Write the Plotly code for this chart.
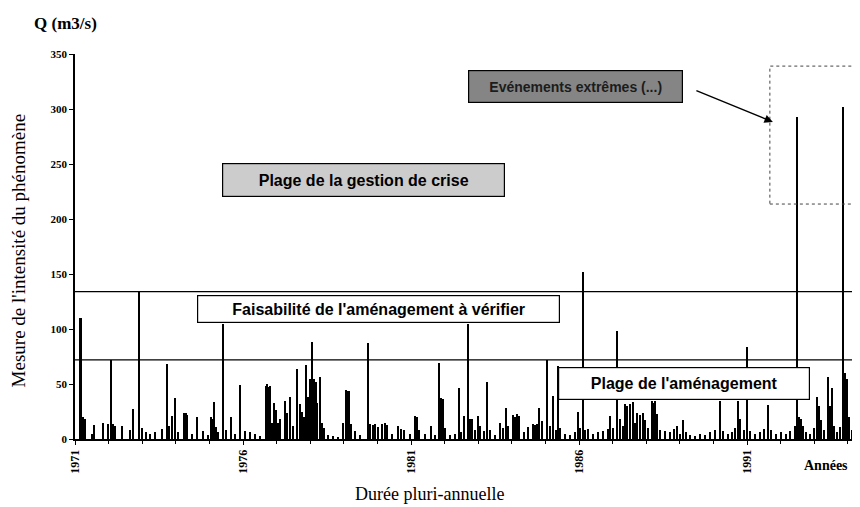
import plotly.graph_objects as go

# ---- data (decimal year, discharge m3/s) ----
annees = [
    1971.17, 1971.24, 1971.30, 1971.51, 1971.57, 1971.83, 1971.98, 1972.07, 1972.13, 1972.19,
    1972.40, 1972.64, 1972.73, 1972.90, 1972.99, 1973.11, 1973.23, 1973.38, 1973.59, 1973.74,
    1973.80, 1973.89, 1973.98, 1974.07, 1974.24, 1974.30, 1974.33, 1974.48, 1974.63, 1974.81,
    1974.96, 1975.05, 1975.11, 1975.14, 1975.20, 1975.26, 1975.40, 1975.49, 1975.64, 1975.76,
    1975.91, 1976.06, 1976.21, 1976.36, 1976.51, 1976.68, 1976.71, 1976.74, 1976.80, 1976.86,
    1976.92, 1976.98, 1977.04, 1977.10, 1977.25, 1977.31, 1977.40, 1977.49, 1977.61, 1977.70,
    1977.76, 1977.82, 1977.88, 1977.93, 1977.99, 1978.05, 1978.11, 1978.17, 1978.20, 1978.29,
    1978.35, 1978.41, 1978.53, 1978.68, 1978.83, 1978.98, 1979.07, 1979.10, 1979.15, 1979.21,
    1979.33, 1979.48, 1979.72, 1979.78, 1979.87, 1979.93, 1980.02, 1980.14, 1980.23, 1980.29,
    1980.43, 1980.61, 1980.70, 1980.79, 1980.97, 1981.12, 1981.18, 1981.24, 1981.42, 1981.60,
    1981.71, 1981.83, 1981.89, 1981.95, 1982.01, 1982.16, 1982.31, 1982.43, 1982.49, 1982.58,
    1982.70, 1982.76, 1982.82, 1982.90, 1982.99, 1983.05, 1983.17, 1983.26, 1983.35, 1983.50,
    1983.65, 1983.74, 1983.83, 1983.89, 1984.04, 1984.10, 1984.15, 1984.21, 1984.36, 1984.48,
    1984.63, 1984.69, 1984.75, 1984.81, 1984.90, 1985.05, 1985.14, 1985.23, 1985.32, 1985.38,
    1985.43, 1985.58, 1985.73, 1985.88, 1985.97, 1986.03, 1986.12, 1986.18, 1986.27, 1986.42,
    1986.57, 1986.71, 1986.86, 1986.92, 1987.01, 1987.13, 1987.22, 1987.31, 1987.37, 1987.43,
    1987.52, 1987.61, 1987.67, 1987.73, 1987.82, 1987.90, 1987.96, 1988.05, 1988.17, 1988.23,
    1988.26, 1988.32, 1988.41, 1988.56, 1988.71, 1988.83, 1988.92, 1989.01, 1989.10, 1989.18,
    1989.30, 1989.45, 1989.60, 1989.75, 1989.90, 1990.05, 1990.20, 1990.29, 1990.43, 1990.55,
    1990.64, 1990.73, 1990.79, 1990.91, 1991.00, 1991.09, 1991.24, 1991.39, 1991.51, 1991.63,
    1991.71, 1991.86, 1992.01, 1992.16, 1992.28, 1992.43, 1992.50, 1992.55, 1992.61, 1992.67,
    1992.76, 1992.88, 1993.00, 1993.08, 1993.14, 1993.20, 1993.29, 1993.41, 1993.47, 1993.53,
    1993.59, 1993.68, 1993.77, 1993.86, 1993.92, 1993.98, 1994.04, 1994.12,
]
debits = [
    110, 20, 18, 5, 13, 15, 14, 72, 14, 12,
    12, 8, 27, 134, 10, 6, 5, 6, 9, 68,
    12, 21, 37, 6, 24, 24, 22, 5, 20, 7,
    4, 20, 18, 34, 11, 6, 105, 8, 20, 5,
    49, 7, 6, 5, 3, 48, 50, 47, 48, 15,
    33, 26, 15, 18, 35, 24, 38, 12, 64, 32,
    25, 20, 67, 38, 55, 88, 55, 52, 33, 56,
    15, 10, 4, 3, 2, 15, 45, 44, 44, 14,
    7, 4, 87, 14, 13, 14, 11, 14, 15, 13,
    5, 12, 9, 8, 5, 21, 20, 8, 5, 12,
    4, 69, 37, 36, 10, 4, 5, 46, 6, 21,
    105, 18, 18, 8, 21, 12, 7, 52, 8, 4,
    15, 10, 28, 12, 22, 20, 23, 21, 6, 11,
    14, 13, 14, 28, 16, 72, 12, 39, 8, 66,
    10, 5, 4, 6, 25, 10, 152, 8, 9, 5,
    6, 7, 9, 21, 10, 98, 18, 12, 32, 30,
    32, 34, 15, 24, 22, 24, 17, 10, 35, 33,
    35, 23, 8, 7, 6, 9, 12, 5, 17, 6,
    4, 3, 5, 4, 6, 8, 35, 7, 5, 6,
    10, 35, 18, 8, 84, 7, 5, 6, 9, 31,
    8, 5, 6, 5, 7, 12, 293, 20, 18, 12,
    6, 5, 10, 38, 30, 17, 8, 56, 30, 46,
    12, 6, 11, 302, 60, 55, 20, 8,
]

seuil_crise = 134
seuil_amenagement = 72

tick_annees = [1971, 1976, 1981, 1986, 1991]
tick_labels = ["1971", "1976", "1981", "1986", "1991"]

serif = "Liberation Serif"
sans = "Liberation Sans"

fig = go.Figure()
fig.add_trace(go.Bar(
    x=annees, y=debits, width=0.05,
    marker=dict(color="black", line=dict(width=0)),
    showlegend=False, hoverinfo="x+y",
))

fig.update_layout(
    width=860, height=507,
    margin=dict(l=67, r=13, t=46, b=76),
    paper_bgcolor="white", plot_bgcolor="white",
    bargap=0,
    xaxis=dict(
        range=[1971, 1994.214], tickmode="array", tickvals=tick_annees, ticktext=tick_labels,
        tickangle=-90, showgrid=False, zeroline=False,
        showline=True, linecolor="black", linewidth=2,
        ticks="outside", ticklen=4, tickcolor="black",
        minor=dict(dtick=1, tick0=1971, ticks="outside", ticklen=3, tickcolor="black", showgrid=False),
        tickfont=dict(family=serif, size=12, color="black", weight="bold"),
    ),
    yaxis=dict(
        range=[0, 350], dtick=50, showgrid=False, zeroline=False,
        showline=True, linecolor="black", linewidth=1.5,
        ticks="outside", ticklen=4, tickcolor="black",
        tickfont=dict(family=serif, size=11, color="black", weight="bold"),
    ),
    shapes=[
        dict(type="line", xref="paper", x0=0, x1=1, yref="y", y0=seuil_crise, y1=seuil_crise,
             line=dict(color="black", width=1.3)),
        dict(type="line", xref="paper", x0=0, x1=1, yref="y", y0=seuil_amenagement, y1=seuil_amenagement,
             line=dict(color="black", width=1.3)),
        dict(type="rect", xref="x", yref="y", x0=1991.68, x1=1994.5, y0=213.6, y1=339,
             line=dict(color="#444", width=1, dash="dot"), fillcolor="rgba(0,0,0,0)"),
    ],
)

def boite(x, y, texte, w, h, bg, fc, size):
    fig.add_annotation(
        x=x, y=y, xref="x", yref="y", text="<b>" + texte + "</b>", showarrow=False,
        width=w - 8, height=h - 8, borderpad=3, bgcolor=bg, bordercolor="black", borderwidth=1.2,
        font=dict(family=sans, size=size, color=fc), align="center", valign="middle",
    )

boite(1979.59, 235.5, "Plage de la gestion de crise", 283, 34, "#cccccc", "black", 16)
boite(1985.90, 320.5, "Evénements extrêmes (...)", 215, 33, "#858585", "#1c1c1c", 14)
boite(1980.03, 118.2, "Faisabilité de l'aménagement à vérifier", 363, 28, "white", "black", 16)
boite(1989.13, 50.5, "Plage de l'aménagement", 252, 33, "white", "black", 16)

# arrow to the extreme events
fig.add_annotation(x=1991.77, y=288.2, xref="x", yref="y", ax=-78, ay=-32, axref="pixel", ayref="pixel",
                   text="", showarrow=True, arrowhead=2, arrowsize=1.2, arrowwidth=1.4, arrowcolor="black")

# texts outside the plot
fig.add_annotation(x=-0.055, y=1.08, xref="paper", yref="paper", xanchor="left", yanchor="middle",
                   text="<b>Q (m3/s)</b>", showarrow=False, font=dict(family=serif, size=17, color="black"))
fig.add_annotation(x=-0.073, y=0.49, xref="paper", yref="paper", xanchor="center", yanchor="middle",
                   textangle=-90, text="Mesure de l'intensité du phénomène", showarrow=False,
                   font=dict(family=serif, size=19, color="black"))
fig.add_annotation(x=0.455, y=-0.143, xref="paper", yref="paper", xanchor="center", yanchor="middle",
                   text="Durée pluri-annuelle", showarrow=False, font=dict(family=serif, size=18, color="black"))
fig.add_annotation(x=0.963, y=-0.070, xref="paper", yref="paper", xanchor="center", yanchor="middle",
                   text="<b>Années</b>", showarrow=False, font=dict(family=serif, size=14, color="black"))

fig.write_html("out.html")
